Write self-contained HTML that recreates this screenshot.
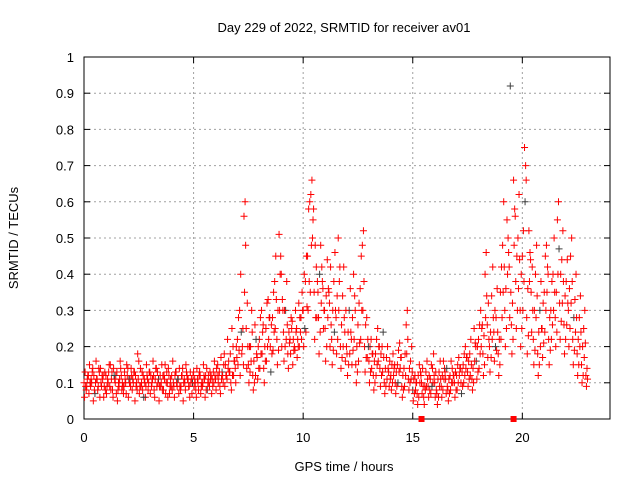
<!DOCTYPE html>
<html><head><meta charset="utf-8"><style>
html,body{margin:0;padding:0;background:#fff;}
svg{display:block;font-family:"Liberation Sans",sans-serif;}
</style></head><body>
<svg id="chart" width="640" height="480" viewBox="0 0 640 480" xmlns="http://www.w3.org/2000/svg">
<rect width="640" height="480" fill="#fff"/>
<g id="grid"></g>
<g id="axes"></g>
<g id="marks"></g>
<text x="344" y="32" text-anchor="middle" font-size="13">Day 229 of 2022, SRMTID for receiver av01</text>
<text x="344" y="471" text-anchor="middle" font-size="13">GPS time / hours</text>
<text transform="translate(18,238) rotate(-90)" text-anchor="middle" font-size="13">SRMTID / TECUs</text>
</svg>
<script>
const xTicks = [0,5,10,15,20];
const yTicks = [0,0.1,0.2,0.3,0.4,0.5,0.6,0.7,0.8,0.9,1];
const yTickLabels = ["0","0.1","0.2","0.3","0.4","0.5","0.6","0.7","0.8","0.9","1"];
const markerTimes = [15.4, 19.6];
const seriesA = [
.10,.08,.12,.09,.14,.07,.11,.13,.09,.06,
.12,.10,.15,.08,.11,.13,.09,.12,.07,.10,
.14,.11,.08,.13,.10,.16,.09,.12,.06,.11,
.13,.10,.08,.14,.11,.09,.12,.15,.10,.07,
.12,.09,.13,.11,.08,.14,.10,.12,.09,.11,
.13,.08,.10,.12,.09,.11,.14,.10,.12,.13,
.11,.15,.09,.13,.18,.12,.16,.10,.20,.14,
.22,.30,.18,.56,.25,.15,.20,.12,.26,.17,
.22,.30,.14,.25,.33,.20,.28,.38,.22,.51,
.40,.24,.30,.18,.22,.27,.20,.25,.32,.28,
.30,.38,.45,.60,.66,.35,.42,.28,.48,.36,
.25,.44,.32,.22,.38,.28,.50,.20,.34,.24,
.18,.30,.22,.40,.15,.26,.36,.48,.20,.28,
.16,.22,.12,.18,.25,.14,.20,.10,.17,.13,
.12,.18,.10,.15,.21,.09,.14,.26,.11,.16,
.08,.12,.07,.15,.10,.06,.13,.09,.11,.14,
.10,.07,.13,.09,.16,.11,.08,.12,.14,.10,
.12,.17,.10,.15,.20,.13,.18,.11,.25,.16,
.22,.30,.18,.40,.26,.20,.34,.24,.28,.18,
.35,.48,.30,.55,.42,.26,.66,.38,.50,.30,
.45,.75,.28,.52,.35,.22,.40,.18,.30,.25,
.35,.48,.22,.30,.40,.28,.55,.32,.44,.26,
.38,.30,.45,.22,.33,.18,.28,.15,.25,.12];
const seriesB = [
.06,.09,.07,.11,.05,.10,.08,.06,.12,.09,
.07,.13,.08,.06,.10,.05,.11,.08,.09,.07,
.06,.09,.11,.05,.08,.07,.10,.06,.09,.08,
.07,.11,.06,.09,.05,.10,.08,.07,.06,.09,
.08,.06,.10,.07,.09,.05,.08,.11,.06,.07,
.09,.06,.08,.07,.10,.06,.08,.09,.07,.10,
.08,.10,.07,.12,.09,.11,.13,.08,.12,.10,
.15,.12,.20,.35,.14,.10,.16,.08,.12,.11,
.14,.18,.10,.16,.22,.13,.19,.25,.15,.30,
.20,.16,.22,.14,.18,.15,.19,.17,.20,.22,
.20,.24,.30,.35,.50,.22,.28,.18,.32,.25,
.16,.28,.20,.15,.24,.18,.30,.14,.20,.16,
.12,.18,.15,.22,.10,.16,.22,.30,.13,.17,
.10,.14,.08,.12,.16,.09,.13,.07,.11,.09,
.08,.12,.07,.10,.14,.06,.09,.18,.08,.11,
.05,.08,.04,.10,.07,.04,.09,.06,.07,.10,
.06,.04,.09,.06,.11,.07,.05,.08,.10,.06,
.08,.12,.07,.10,.14,.09,.12,.08,.16,.11,
.14,.20,.12,.28,.17,.13,.22,.16,.19,.12,
.22,.35,.20,.40,.28,.18,.48,.25,.36,.20,
.30,.60,.18,.38,.24,.15,.28,.12,.20,.17,
.24,.35,.15,.22,.30,.20,.40,.22,.32,.18,
.26,.20,.32,.15,.24,.12,.20,.10,.17,.09];
const seriesC = [
.13,.11,.15,.10,.12,.16,.09,.14,.11,.13,
.09,.15,.11,.14,.12,.08,.16,.10,.13,.15,
.11,.14,.10,.12,.18,.09,.13,.11,.15,.10,
.12,.16,.11,.13,.09,.15,.12,.10,.14,.11,
.16,.12,.09,.14,.12,.10,.15,.11,.13,.10,
.11,.14,.12,.09,.15,.12,.10,.13,.11,.16,
.14,.12,.17,.10,.15,.22,.13,.25,.16,.20,
.28,.40,.25,.60,.32,.20,.30,.16,.22,.20,
.28,.24,.20,.32,.28,.26,.35,.45,.30,.40,
.33,.30,.38,.24,.28,.22,.30,.22,.28,.35,
.40,.45,.58,.62,.55,.48,.38,.40,.42,.30,
.34,.36,.42,.30,.46,.34,.38,.26,.42,.30,
.24,.36,.28,.34,.20,.32,.45,.52,.26,.22,
.20,.18,.16,.22,.20,.18,.24,.14,.20,.16,
.15,.14,.13,.19,.17,.12,.18,.30,.14,.20,
.11,.10,.12,.13,.14,.09,.16,.12,.15,.18,
.13,.11,.16,.12,.14,.14,.11,.16,.12,.13,
.15,.14,.13,.18,.17,.16,.22,.14,.21,.20,
.26,.25,.23,.46,.32,.24,.42,.30,.36,.22,
.42,.60,.36,.50,.92,.32,.58,.45,.62,.40,
.52,.70,.36,.46,.42,.30,.48,.24,.38,.32,
.45,.42,.28,.38,.50,.35,.60,.40,.52,.34,
.44,.36,.50,.28,.40,.22,.34,.20,.30,.14];
const seriesD = [
.09,.12,.10,.13,.08,.11,.14,.10,.12,.08,
.11,.09,.13,.12,.07,.10,.14,.09,.11,.12,
.10,.12,.13,.09,.11,.14,.08,.10,.12,.13,
.09,.12,.14,.10,.12,.08,.11,.13,.12,.09,
.10,.13,.11,.09,.12,.11,.13,.09,.10,.12,
.10,.11,.13,.10,.12,.08,.12,.11,.09,.12,
.12,.13,.11,.15,.12,.14,.18,.12,.16,.17,
.19,.24,.15,.48,.20,.13,.24,.10,.18,.14,
.18,.26,.16,.20,.28,.18,.24,.33,.19,.45,
.30,.20,.26,.21,.25,.19,.24,.20,.24,.30,
.25,.31,.38,.48,.58,.28,.35,.24,.38,.30,
.20,.35,.26,.19,.30,.22,.42,.17,.28,.20,
.15,.24,.19,.30,.13,.21,.30,.38,.17,.20,
.13,.18,.10,.15,.20,.12,.17,.09,.14,.11,
.10,.15,.09,.13,.17,.08,.12,.22,.10,.13,
.07,.10,.06,.12,.09,.08,.11,.08,.09,.12,
.08,.06,.11,.08,.13,.09,.07,.10,.12,.08,
.10,.14,.09,.12,.17,.11,.15,.10,.20,.13,
.18,.26,.15,.34,.22,.17,.28,.20,.24,.15,
.28,.42,.25,.46,.35,.22,.56,.30,.44,.25,
.38,.66,.23,.44,.30,.19,.34,.15,.25,.21,
.30,.40,.19,.26,.35,.24,.47,.27,.38,.22,
.32,.25,.38,.19,.28,.15,.24,.12,.21,.11];

const NS="http://www.w3.org/2000/svg";
const L=84,R=610,T=57,B=419,XMAX=24;
function xs(h){return L+(R-L)*h/XMAX;}
function ys(v){return B-(B-T)*v;}
function mk(tag,attrs,parent){const e=document.createElementNS(NS,tag);for(const k in attrs)e.setAttribute(k,attrs[k]);parent.appendChild(e);return e;}
const grid=document.getElementById('grid'),axes=document.getElementById('axes'),marks=document.getElementById('marks');
yTicks.forEach((v,i)=>{
  const y=ys(v);
  if(i>0&&i<yTicks.length-1){const g=mk('line',{x1:L,x2:R,y1:y,y2:y,stroke:'#a0a0a0','stroke-dasharray':'2,3','stroke-width':1},grid);
  
  }
  mk('line',{x1:L,x2:L+6,y1:y,y2:y,stroke:'#000'},axes);
  mk('line',{x1:R,x2:R-6,y1:y,y2:y,stroke:'#000'},axes);
  const t=mk('text',{x:L-10,y:y+5,'text-anchor':'end','font-size':13},axes);t.textContent=yTickLabels[i];
  
  
});
xTicks.forEach(h=>{
  const x=xs(h);
  if(h>0){const g=mk('line',{x1:x,x2:x,y1:T,y2:B,stroke:'#a0a0a0','stroke-dasharray':'2,3'},grid);
  
  }
  mk('line',{x1:x,x2:x,y1:B,y2:B-6,stroke:'#000'},axes);
  mk('line',{x1:x,x2:x,y1:T,y2:T+6,stroke:'#000'},axes);
  const t=mk('text',{x:x,y:B+23,'text-anchor':'middle','font-size':13},axes);t.textContent=String(h);
  
  
});
const fr=mk('rect',{x:L,y:T,width:R-L,height:B-T,fill:'none',stroke:'#000','stroke-width':1},axes);


function plus(h,v,color){
  const x=xs(h),y=ys(v);
  const p=mk('path',{d:`M${x-3.5},${y}H${x+3.5}M${x},${y-3.5}V${y+3.5}`,stroke:color,'stroke-width':1,fill:'none'},marks);
  
  
}
const series=[[seriesA,0],[seriesB,0.025],[seriesC,0.05],[seriesD,0.075]];
series.forEach(([arr,off],si)=>{arr.forEach((v,i)=>plus(i*0.1+off,v,((i+si*7)%29==5)?'#404040':'#ff0000'));});
markerTimes.forEach(h=>{
  const r=mk('rect',{x:xs(h)-3,y:B-3,width:6,height:6,fill:'#ff0000'},marks);
  
  
});
</script>
</body></html>
